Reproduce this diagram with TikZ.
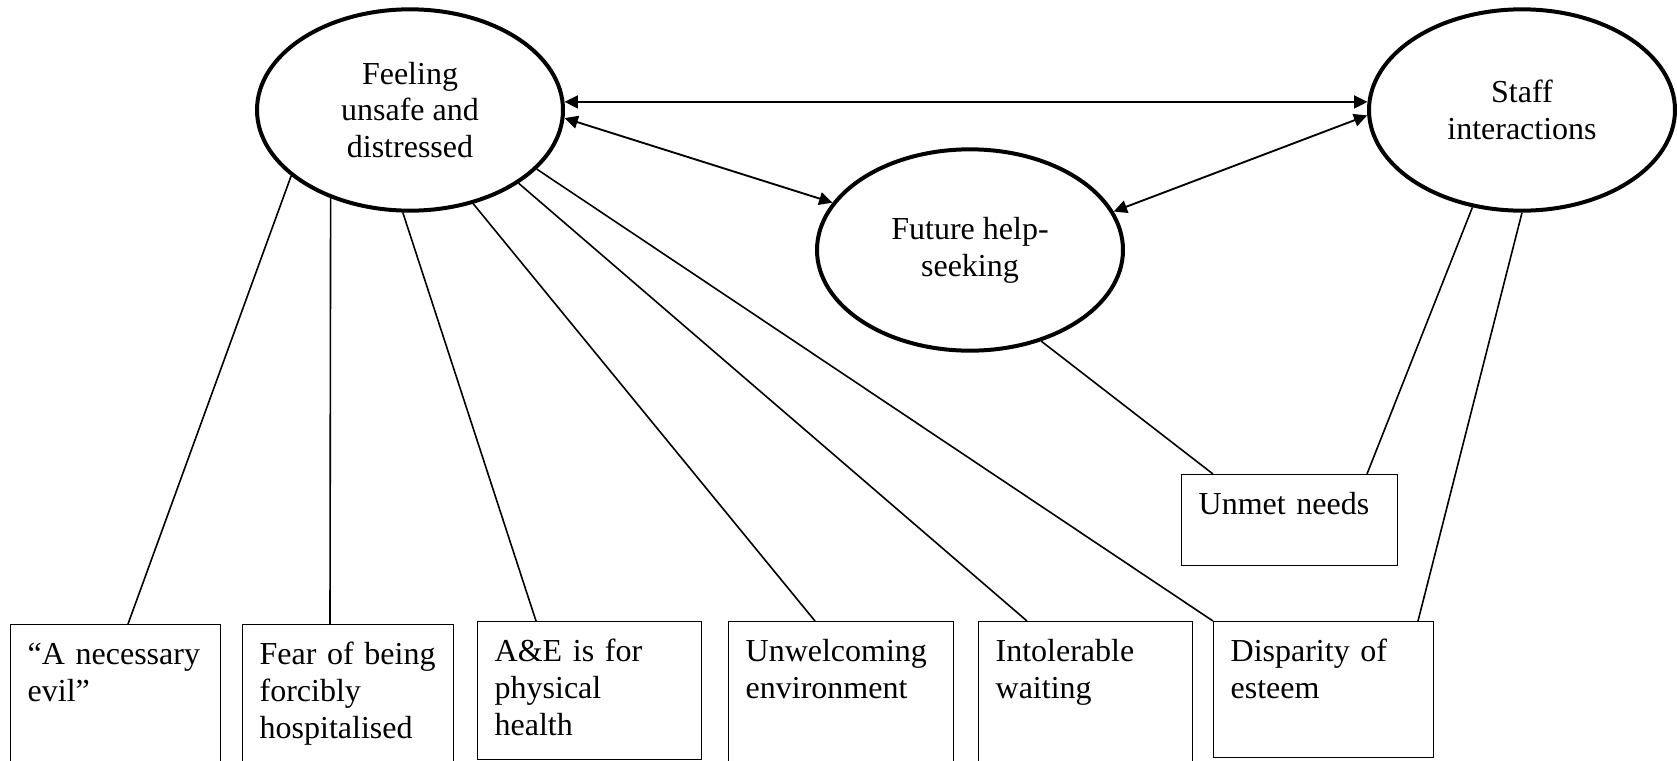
\documentclass[tikz,border=0pt]{standalone}
\usepackage{fontspec}
\setmainfont{Liberation Serif}
\usetikzlibrary{shapes.geometric,arrows.meta,calc}

\tikzset{
  theme/.style={ellipse,draw,line width=1.5pt,minimum width=114.75pt,minimum height=75.5pt,inner sep=0pt,align=center},
  subtheme/.style={rectangle,draw,line width=0.5pt,anchor=north west,align=left,inner xsep=6.375pt,inner ysep=0pt,text height=15pt},
  link/.style={line width=0.6pt},
  twoway/.style={line width=0.7pt,{Triangle[length=5pt,width=4.8pt]}-{Triangle[length=5pt,width=4.8pt]}}
}

\begin{document}
\begin{tikzpicture}[x=0.375pt,y=-0.375pt,font=\fontsize{12}{13.8}\selectfont]
\useasboundingbox (0,0) rectangle (1677,761);
% three main themes
\node[theme] (feel) at (410,110) {Feeling\\unsafe and\\distressed};
\node[theme] (help) at (970,250) {Future help-\\seeking};
\node[theme] (staff) at (1522,110) {Staff\\interactions};

% subthemes, the bottom row runs off the page
\node[subtheme,text width=66pt,text depth=41.25pt] (evil) at (10,624) {“A necessary\\evil”};
\node[subtheme,text width=66.4pt,text depth=41.25pt] (forced) at (242,624) {Fear of being\\forcibly\\hospitalised};
\node[subtheme,text width=71.25pt,text depth=36.75pt] (physical) at (477,621) {A\&E is for\\physical\\health};
\node[subtheme,text width=71.6pt,text depth=41.25pt] (unwelcome) at (728,621) {Unwelcoming\\environment};
\node[subtheme,text width=67.5pt,text depth=41.25pt] (waiting) at (978,621) {Intolerable\\waiting};
\node[subtheme,text width=69.75pt,text depth=36pt] (esteem) at (1213,621) {Disparity of\\esteem};
\node[subtheme,text width=68.25pt,text depth=19.1pt] (unmet) at (1181,474) {Unmet needs};

% two-way links between the themes
\draw[twoway] (feel.3) -- (staff.177);
\draw[twoway] (feel.357) -- (help.161);
\draw[twoway] (staff.182) -- (help.15);

% feeling unsafe -> its subthemes
\foreach \ang/\sub/\off in {209/evil/118,228/forced/88,266/physical/59,304/unwelcome/87,326/waiting/49,335/esteem/0}{
  \draw[link] (feel.\ang) -- ($(\sub.north west)+(\off,0)$);
}
\draw[link] (help.308) -- ($(unmet.north west)+(32,0)$);
\draw[link] (staff.243) -- ($(unmet.north west)+(186,0)$);
\draw[link] (staff.270) -- ($(esteem.north west)+(205,0)$);
\end{tikzpicture}
\end{document}
